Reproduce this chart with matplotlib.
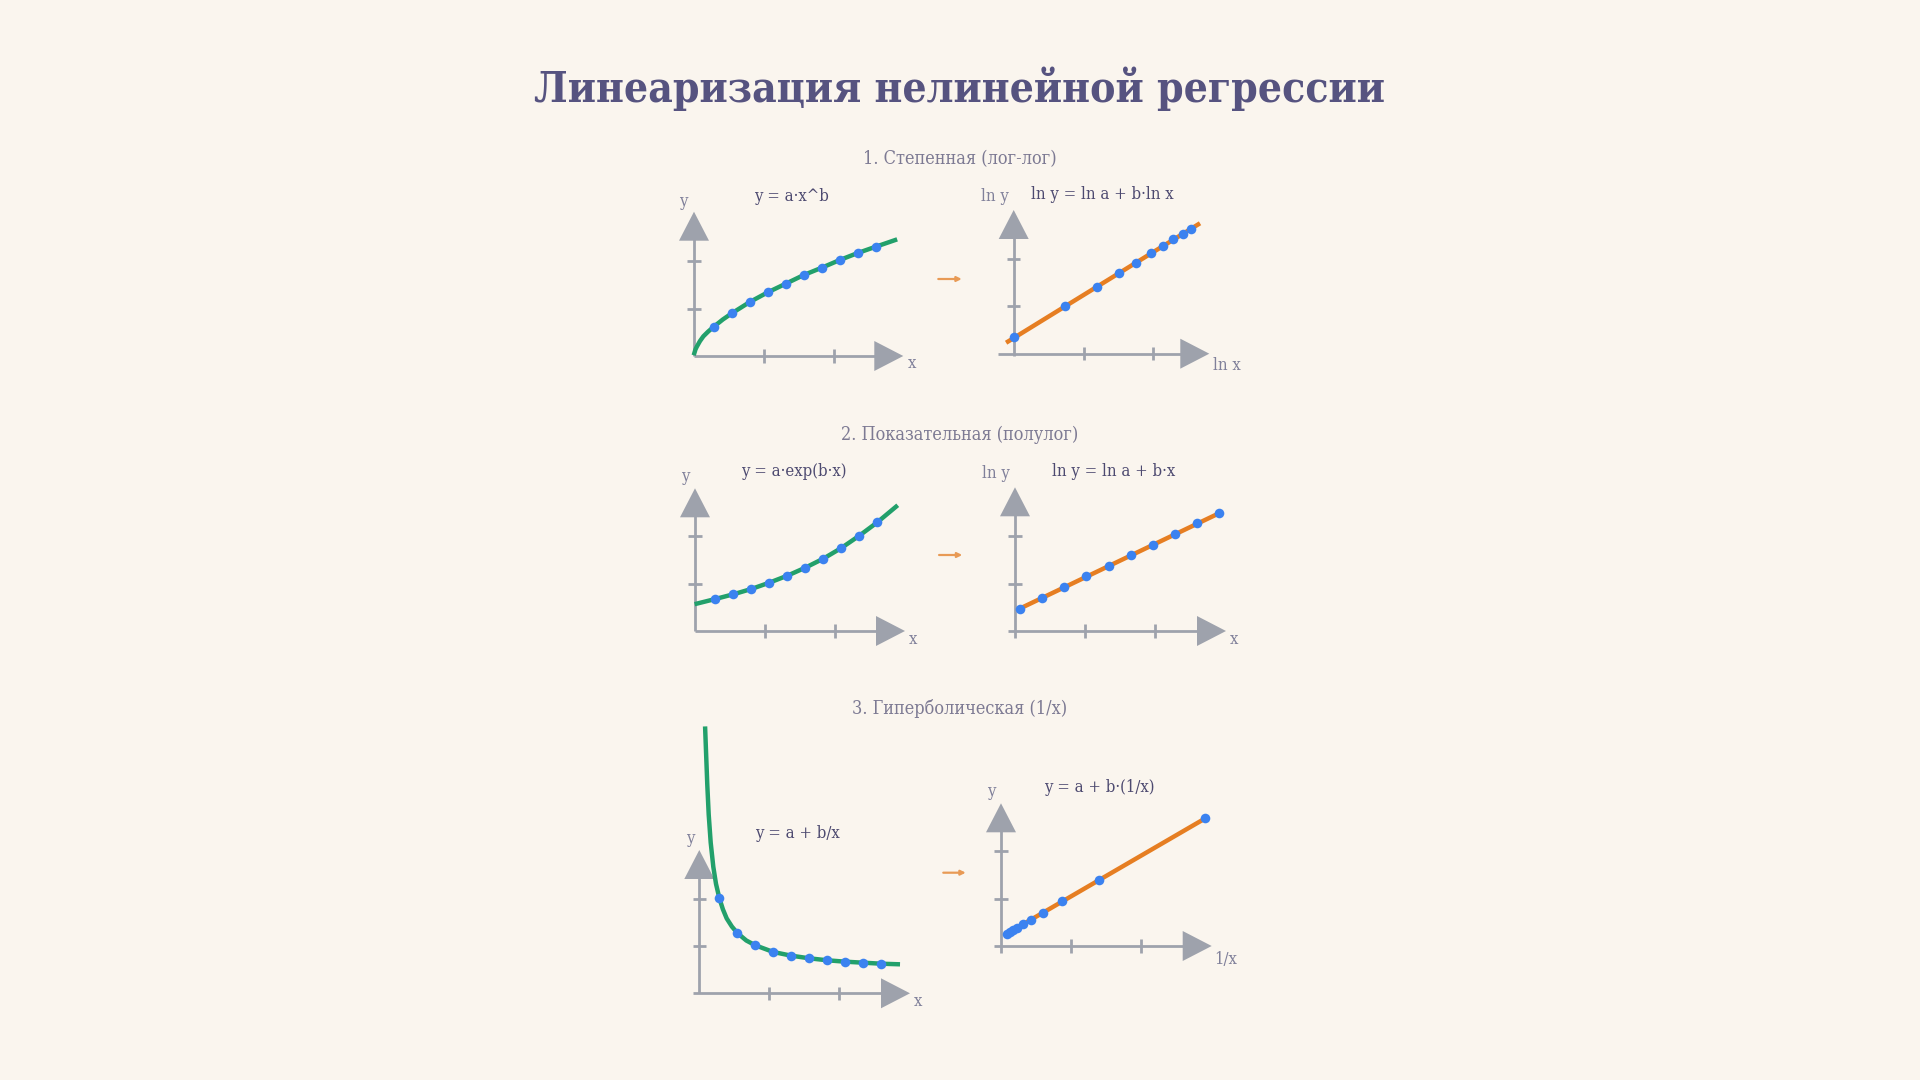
import matplotlib
matplotlib.use("Agg")
import matplotlib.pyplot as plt
import numpy as np
from matplotlib.lines import Line2D
from matplotlib.patches import Polygon, FancyArrowPatch

# ---------------- data ----------------
x = [1.1, 2.1, 3.1, 4.1, 5.1, 6.1, 7.1, 8.1, 9.1, 10.1]

power_y = [1.221, 1.779, 2.25, 2.654, 3.013, 3.375, 3.679, 4.0, 4.292, 4.554]
power_curve_x = [0.02, 0.08, 0.15, 0.33, 0.52, 0.79, 1.1, 1.6, 2.1, 3.1, 4.1, 5.1, 6.1, 7.1, 8.1, 9.1, 10.1, 11.17]
power_curve_y = [0.12, 0.27, 0.38, 0.62, 0.82, 1.02, 1.221, 1.52, 1.779, 2.25, 2.654, 3.013, 3.375, 3.679, 4.0, 4.292, 4.554, 4.83]
power_fit_lnx = [0.0, 2.424]
power_fit_lny = [0.133, 1.581]

exp_y = [1.333, 1.529, 1.75, 2.013, 2.304, 2.638, 3.013, 3.458, 3.971, 4.529]
exp_curve_x = [0.07, 1.1, 2.1, 3.1, 4.1, 5.1, 6.1, 7.1, 8.1, 9.1, 10.1, 11.14]
exp_curve_y = [1.14, 1.333, 1.529, 1.75, 2.013, 2.304, 2.638, 3.013, 3.458, 3.971, 4.529, 5.18]
exp_fit_x = [1.1, 10.1]
exp_fit_lny = [0.288, 1.511]

hyp_y = [3.971, 2.513, 2.0, 1.721, 1.567, 1.458, 1.375, 1.317, 1.275, 1.233]
hyp_curve_x = [0.31, 0.361, 0.433, 0.511, 0.622, 0.767, 0.917, 1.1, 1.3, 1.51, 1.8, 2.1, 2.6, 3.1, 4.1,
               5.1, 6.1, 7.1, 8.1, 9.1, 10.1, 11.14]
hyp_curve_y = [11.12, 10.1, 8.68, 7.45, 6.28, 5.27, 4.56, 3.971, 3.5, 3.12, 2.78, 2.513, 2.2, 2.0, 1.721,
               1.567, 1.458, 1.375, 1.317, 1.275, 1.233, 1.208]
hyp_fit_invx = [0.099, 0.909]
hyp_fit_y = [1.233, 3.971]

title = "Линеаризация нелинейной регрессии"
section_titles = ["1. Степенная (лог-лог)", "2. Показательная (полулог)", "3. Гиперболическая (1/x)"]
formulas = ["y = a·x^b", "ln y = ln a + b·ln x", "y = a·exp(b·x)", "ln y = ln a + b·x",
            "y = a + b/x", "y = a + b·(1/x)"]

# ---------------- style ----------------
BG = "#FAF5EE"
TITLE_C = "#565380"
SUB_C = "#7d7a93"
FORM_C = "#4d4a70"
LAB_C = "#80809a"
AX_C = "#9EA2AC"
GREEN = "#22A06B"
ORANGE = "#E67E22"
BLUE = "#3B82F0"
ARROW_C = "#E89A55"
FONT = dict(family="DejaVu Serif", stretch="condensed")

W, H = 1920, 1080
fig = plt.figure(figsize=(19.2, 10.8), dpi=100, facecolor=BG)


def fx(px):
    return px / W


def fy(py):
    return 1 - py / H


def frame(ox, oy, x_start, x_tip, y_start, y_tip):
    lw = 2.0
    kw = dict(transform=fig.transFigure, color=AX_C, lw=lw, zorder=-1, solid_capstyle="butt")
    fig.add_artist(Line2D([fx(x_start), fx(x_tip - 10)], [fy(oy), fy(oy)], **kw))
    fig.add_artist(Line2D([fx(ox), fx(ox)], [fy(y_start), fy(y_tip + 10)], **kw))
    for d in (70, 139.5):
        fig.add_artist(Line2D([fx(ox + d)] * 2, [fy(oy - 6.7), fy(oy + 6.7)], **kw))
    for d in (47.3, 94.7):
        fig.add_artist(Line2D([fx(ox - 6.7), fx(ox + 6.7)], [fy(oy - d)] * 2, **kw))
    fig.add_artist(Polygon([(fx(x_tip), fy(oy)), (fx(x_tip - 29), fy(oy - 15)),
                            (fx(x_tip - 29), fy(oy + 15))], closed=True,
                           transform=fig.transFigure, color=AX_C, lw=0, zorder=-1))
    fig.add_artist(Polygon([(fx(ox), fy(y_tip)), (fx(ox - 15), fy(y_tip + 29)),
                            (fx(ox + 15), fy(y_tip + 29))], closed=True,
                           transform=fig.transFigure, color=AX_C, lw=0, zorder=-1))


def data_axes(xmap, ymap, left, right, top, bottom):
    ax = fig.add_axes([fx(left), fy(bottom), (right - left) / W, (bottom - top) / H])
    ax.set_xlim((left - xmap[0]) / xmap[1], (right - xmap[0]) / xmap[1])
    ax.set_ylim((ymap[0] - bottom) / ymap[1], (ymap[0] - top) / ymap[1])
    ax.axis("off")
    ax.set_zorder(5)
    return ax


def txt(px, py, s, size, color, **kw):
    fig.text(fx(px), fy(py), s, ha="center", va="center", fontsize=size, color=color,
             fontfamily=FONT["family"], fontstretch=FONT["stretch"], **kw)


def small_arrow(x0, x1, y):
    fig.add_artist(FancyArrowPatch((fx(x0), fy(y)), (fx(x1), fy(y)), transform=fig.transFigure,
                                   arrowstyle="-|>", mutation_scale=7, color=ARROW_C, lw=1.6))


LW = 3.2
MS = 48

# title and section titles
txt(960, 89, title, 30.5, TITLE_C, fontweight="bold")
txt(960, 159, section_titles[0], 13, SUB_C)
txt(960, 434.5, section_titles[1], 13, SUB_C)
txt(960, 709, section_titles[2], 13, SUB_C)

xa = np.array(x)

# ---- panel 1 left: power ----
frame(694, 356, 694, 903.3, 356, 211.7)
ax = data_axes((694, 18), (356, 24), 600, 940, 150, 400)
ax.plot(power_curve_x, power_curve_y, color=GREEN, lw=LW, clip_on=False, zorder=2)
ax.scatter(x, power_y, s=MS, color=BLUE, zorder=3, clip_on=False, linewidths=0)
txt(791.7, 196.7, formulas[0], 12, FORM_C)
txt(683.5, 201, "y", 12, LAB_C)
txt(912.5, 364, "x", 12, LAB_C)

# ---- panel 1 right: log-log ----
frame(1013.7, 353.7, 998.3, 1209.3, 356, 210)
ax = data_axes((1006.1, 80), (353.7, 82.5), 960, 1260, 150, 400)
ax.plot(power_fit_lnx, power_fit_lny, color=ORANGE, lw=LW, clip_on=False, zorder=2,
        solid_capstyle="butt")
ax.scatter(np.log(xa), np.log(power_y), s=MS, color=BLUE, zorder=3, clip_on=False, linewidths=0)
txt(1102.3, 194.5, formulas[1], 12, FORM_C)
txt(995, 197, "ln y", 12, LAB_C)
txt(1226.5, 366, "ln x", 12, LAB_C)

small_arrow(935.5, 964.5, 279)

# ---- panel 2 left: exponential ----
frame(695, 631, 695, 905, 631, 488.3)
ax = data_axes((695.5, 18), (631, 24), 600, 940, 430, 680)
ax.plot(exp_curve_x, exp_curve_y, color=GREEN, lw=LW, clip_on=False, zorder=2)
ax.scatter(x, exp_y, s=MS, color=BLUE, zorder=3, clip_on=False, linewidths=0)
txt(793.8, 471.5, formulas[2], 12, FORM_C)
txt(685, 476.5, "y", 12, LAB_C)
txt(913.5, 639.5, "x", 12, LAB_C)

# ---- panel 2 right: semi-log ----
frame(1015, 631, 1008.3, 1226, 637.7, 487.3)
ax = data_axes((995.6, 22.15), (631, 78), 960, 1260, 430, 680)
ax.plot(exp_fit_x, exp_fit_lny, color=ORANGE, lw=LW, clip_on=False, zorder=2,
        solid_capstyle="butt")
ax.scatter(x, np.log(exp_y), s=MS, color=BLUE, zorder=3, clip_on=False, linewidths=0)
txt(1113.3, 471.5, formulas[3], 12, FORM_C)
txt(995.5, 474, "ln y", 12, LAB_C)
txt(1234.3, 640, "x", 12, LAB_C)

small_arrow(936.3, 965, 555)

# ---- panel 3 left: hyperbola ----
frame(699.3, 993.3, 692.7, 910, 993.3, 850)
ax = data_axes((699.5, 18), (993.3, 24), 600, 940, 700, 1040)
ax.plot(hyp_curve_x, hyp_curve_y, color=GREEN, lw=LW, clip_on=False, zorder=2,
        solid_capstyle="butt", solid_joinstyle="round")
ax.scatter(x, hyp_y, s=MS, color=BLUE, zorder=3, clip_on=False, linewidths=0)
txt(797.7, 834, formulas[4], 12, FORM_C)
txt(690, 838.5, "y", 12, LAB_C)
txt(918.5, 1002, "x", 12, LAB_C)

# ---- panel 3 right: y vs 1/x ----
frame(1001, 946, 994, 1211.7, 953.3, 803.3)
ax = data_axes((982.8, 244.8), (985.5, 42.1), 960, 1260, 760, 1000)
ax.plot(hyp_fit_invx, hyp_fit_y, color=ORANGE, lw=LW, clip_on=False, zorder=2,
        solid_capstyle="butt")
ax.scatter(1 / xa, hyp_y, s=MS, color=BLUE, zorder=3, clip_on=False, linewidths=0)
txt(1099.2, 788, formulas[5], 12, FORM_C)
txt(991.7, 791.5, "y", 12, LAB_C)
txt(1225.5, 959.5, "1/x", 12, LAB_C)

small_arrow(940.5, 968.5, 872.7)

fig.savefig("out.png", dpi=100, facecolor=BG)
